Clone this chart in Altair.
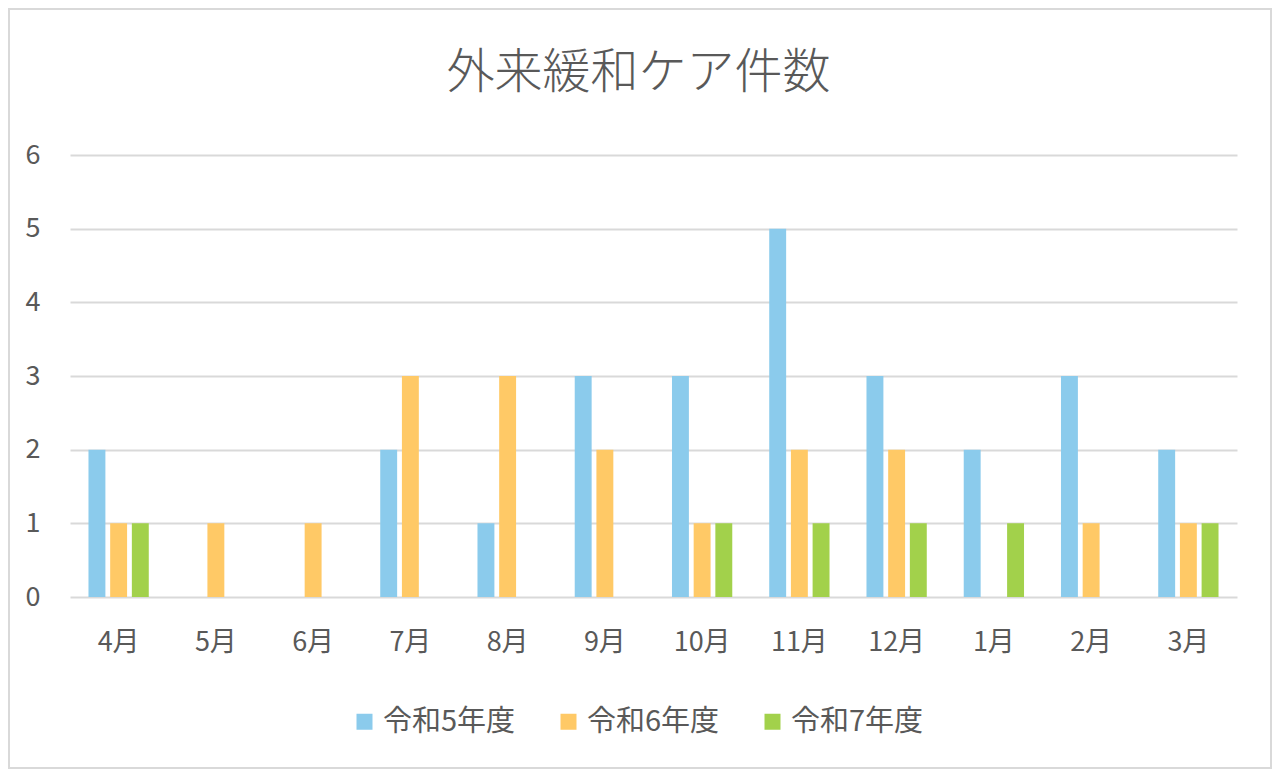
import altair as alt
import pandas as pd

months = ["4月", "5月", "6月", "7月", "8月", "9月", "10月", "11月", "12月", "1月", "2月", "3月"]
series = ["令和5年度", "令和6年度", "令和7年度"]
r5 = [2, 0, 0, 2, 1, 3, 3, 5, 3, 2, 3, 2]
r6 = [1, 1, 1, 3, 3, 2, 1, 2, 2, 0, 1, 1]
r7 = [1, 0, 0, 0, 0, 0, 1, 1, 1, 1, 0, 1]
colors = ["#8BCBEC", "#FFC966", "#A2D14B"]
title_text = "外来緩和ケア件数"

rows = []
for name, vals in zip(series, [r5, r6, r7]):
    for m, v in zip(months, vals):
        rows.append({"month": m, "series": name, "count": v})
df = pd.DataFrame(rows)

FONT = "Noto Sans CJK JP"
TXT = "#595959"
W, H = 1167, 442
PL, PT = 62, 147
TOTW, TOTH = 1264, 761

bars = alt.Chart(df).mark_bar().encode(
    x=alt.X("month:N", sort=months, title=None,
            scale=alt.Scale(paddingInner=0.38, paddingOuter=0.19),
            axis=alt.Axis(labelAngle=0, labelFontSize=27, labelColor=TXT, labelFont=FONT,
                          labelPadding=32, ticks=False, domain=False, grid=False)),
    xOffset=alt.XOffset("series:N", sort=series, scale=alt.Scale(paddingInner=0.22, paddingOuter=0)),
    y=alt.Y("count:Q", title=None,
            scale=alt.Scale(domain=[0, 6]),
            axis=alt.Axis(values=[0, 1, 2, 3, 4, 5, 6], labelFontSize=27, labelColor=TXT,
                          labelFont=FONT, labelPadding=30, ticks=False, domain=False,
                          gridColor="#D9D9D9", gridWidth=2)),
    color=alt.Color("series:N", sort=series,
                    scale=alt.Scale(domain=series, range=colors),
                    legend=alt.Legend(title=None, orient="none", direction="horizontal",
                                      legendX=280, legendY=552,
                                      symbolType="square", symbolSize=256,
                                      symbolStrokeWidth=0,
                                      labelFontSize=29, labelFont=FONT, labelColor=TXT,
                                      labelOffset=4, columnPadding=38)),
)

title = alt.Chart(alt.Data(values=[{"t": title_text}])).mark_text(
    font=FONT, fontSize=48, fontWeight=300, color=TXT, align="center", baseline="middle"
).encode(
    text="t:N",
    x=alt.value(W / 2 - 15), y=alt.value(66 - PT),
)

border = alt.Chart(alt.Data(values=[{}])).mark_rect(
    fill=None, stroke="#D9D9D9", strokeWidth=2
).encode(
    x=alt.value(-PL + 1), x2=alt.value(TOTW - PL - 1),
    y=alt.value(-PT + 1), y2=alt.value(TOTH - PT - 1),
)

chart = alt.layer(bars, title, border).properties(
    width=W, height=H,
    autosize=alt.AutoSizeParams(type="none"),
    padding={"left": PL, "top": PT, "right": TOTW - PL - W, "bottom": TOTH - PT - H},
    background="white",
).configure_view(stroke=None)

chart.save("out.html", embed_options={"renderer": "svg", "actions": False})
